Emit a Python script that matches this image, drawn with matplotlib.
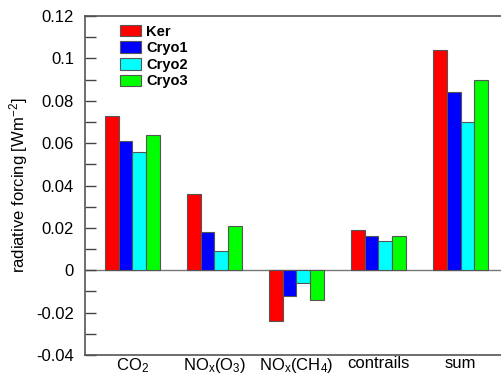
import numpy as np
import matplotlib
matplotlib.use('Agg')
import matplotlib.pyplot as plt

plt.rcParams['font.family'] = ['Liberation Sans', 'DejaVu Sans']
plt.rcParams['mathtext.fontset'] = 'custom'
plt.rcParams['mathtext.rm'] = 'Liberation Sans'
plt.rcParams['mathtext.it'] = 'Liberation Sans'

# %% Data
categories = ['CO$_2$', 'NO$_\\mathrm{x}$(O$_3$)', 'NO$_\\mathrm{x}$(CH$_4$)', 'contrails', 'sum']
series = ['Ker', 'Cryo1', 'Cryo2', 'Cryo3']
ker = [0.073, 0.036, -0.024, 0.019, 0.104]
cryo1 = [0.061, 0.018, -0.012, 0.016, 0.084]
cryo2 = [0.056, 0.009, -0.006, 0.014, 0.070]
cryo3 = [0.064, 0.021, -0.014, 0.016, 0.090]
colors = ['#ff0000', '#0000ff', '#00ffff', '#00ff00']

# %% Plot
W, H = 502, 376
fig = plt.figure(figsize=(W / 100, H / 100), dpi=100)
left, top, bottom = 85, 16, 355
ax = fig.add_axes([left / W, 1 - bottom / H, 1 - left / W, (bottom - top) / H])

x = np.arange(len(categories))
width = 0.167
for i, (name, vals, c) in enumerate(zip(series, [ker, cryo1, cryo2, cryo3], colors)):
    ax.bar(x + (i - 1.5) * width, vals, width, color=c, edgecolor='#555555',
           linewidth=0.8, label=name, zorder=2)

ax.axhline(0, color='#777777', linewidth=1, zorder=1)
ax.set_xlim(-0.579, 4.506)
ax.set_ylim(-0.04, 0.12)
ax.set_yticks(np.arange(-0.04, 0.121, 0.02))
ax.set_yticklabels(['-0.04', '-0.02', '0', '0.02', '0.04', '0.06', '0.08', '0.1', '0.12'])
ax.set_yticks(np.arange(-0.03, 0.12, 0.02), minor=True)
ax.tick_params(axis='y', which='both', direction='in', length=8, width=1,
               color='#444444', labelsize=12, pad=8)
ax.set_xticks(x)
ax.set_xticklabels(categories)
ax.tick_params(axis='x', length=0, labelsize=12, pad=1)

for s in ['left', 'top', 'bottom']:
    ax.spines[s].set_color('#555555')
    ax.spines[s].set_linewidth(1.2)
ax.spines['right'].set_visible(False)

ax.set_ylabel('radiative forcing [Wm$^{-2}$]', fontsize=12, labelpad=4)

ax.legend(loc='upper left', bbox_to_anchor=(0.06, 1.005), frameon=False,
          prop={'weight': 'bold', 'size': 10.5}, handlelength=1.45, handleheight=0.85,
          handletextpad=0.35, labelspacing=0.18, borderaxespad=0.3)

fig.savefig('out.png', dpi=100)
